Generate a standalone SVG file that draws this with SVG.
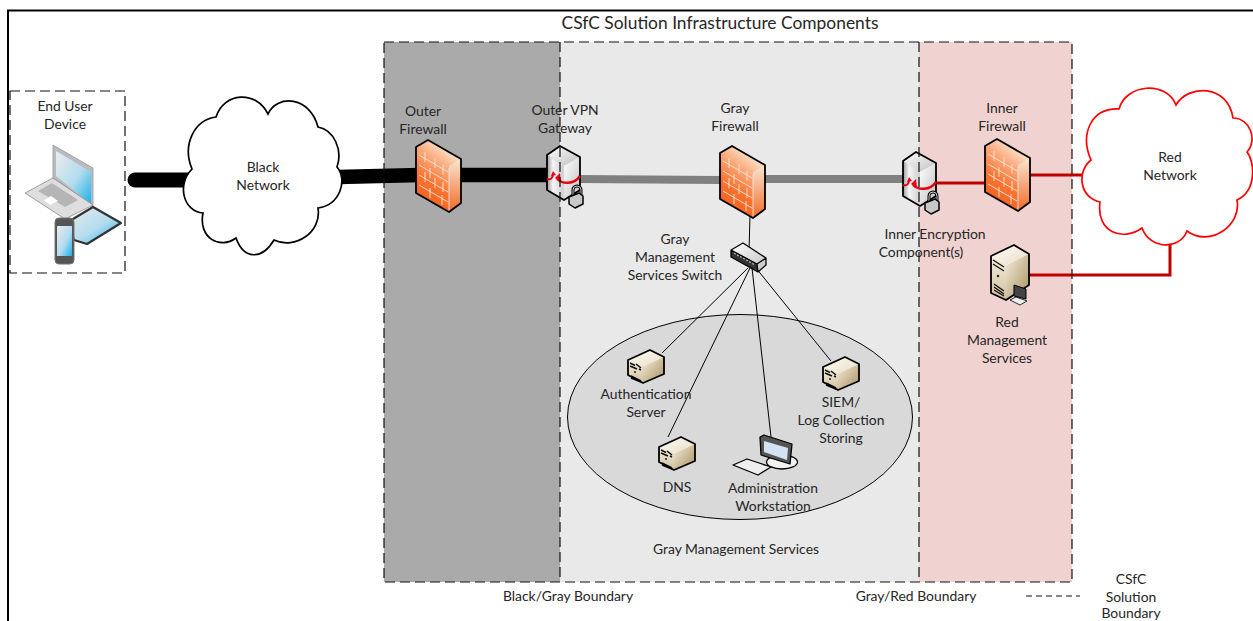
<svg xmlns="http://www.w3.org/2000/svg" width="1253" height="621" viewBox="0 0 1253 621">
<defs>
<style>
text{font-family:Lato,"Open Sans","Liberation Sans",sans-serif;font-size:13.900px;fill:#262626;text-anchor:middle}
.dash{fill:none;stroke:#111;stroke-width:1.200;stroke-dasharray:10 5}
.cloud{fill:#fff;stroke-width:1.700}
.edge{fill:none;stroke:#000;stroke-width:1.800;stroke-linejoin:round}
</style>
<linearGradient id="fw" gradientUnits="userSpaceOnUse" x1="38" y1="12" x2="2" y2="60"><stop offset="0" stop-color="#f9e6cf"/><stop offset=".28" stop-color="#fbae82"/><stop offset=".65" stop-color="#f9722f"/><stop offset="1" stop-color="#f2601f"/></linearGradient>
<linearGradient id="fws" x1="0" y1="0" x2="0" y2="1"><stop offset="0" stop-color="#f8e6d0"/><stop offset="1" stop-color="#f26a28"/></linearGradient>
<linearGradient id="top" x1="0" y1="0" x2="1" y2="1"><stop offset="0" stop-color="#fffdf8"/><stop offset="1" stop-color="#e8dcc4"/></linearGradient>
<linearGradient id="tan" x1="0" y1="0" x2="1" y2="1"><stop offset="0" stop-color="#f4ecdc"/><stop offset="1" stop-color="#a8905f"/></linearGradient>
<linearGradient id="cream" x1="0" y1="0" x2="0" y2="1"><stop offset="0" stop-color="#f5efe0"/><stop offset="1" stop-color="#d0bf9c"/></linearGradient>
<linearGradient id="sil" x1="0" y1="0" x2="1" y2="1"><stop offset="0" stop-color="#fff"/><stop offset="1" stop-color="#c0c0c0"/></linearGradient>
<linearGradient id="silf" x1="0" y1="0" x2="1" y2="0"><stop offset="0" stop-color="#9a9a9a"/><stop offset=".35" stop-color="#f5f5f5"/><stop offset="1" stop-color="#cfcfcf"/></linearGradient>
<linearGradient id="blu" x1="0" y1="0" x2="1" y2="1"><stop offset="0" stop-color="#ececec"/><stop offset=".55" stop-color="#b4dcef"/><stop offset="1" stop-color="#18b0ea"/></linearGradient>
<g id="firewall">
<path d="M0 7 L12 0 L45 19 L45 63 L33 72 L0 53Z" fill="url(#fw)"/>
<path d="M33 26 L45 19 L45 63 L33 72Z" fill="url(#fws)"/>
<path d="M3 15 L32 32 M3 25 L32 42 M3 35 L32 52 M3 45 L32 62 M9 12 V22 M19 18 V28 M9 32 V42 M19 38 V48 M27 42 V52 M14 28 V38 M27 25 V35 M14 48 V58 M26 55 V65 M33 28 V71" fill="none" stroke="#fde6d6" stroke-width=".9"/>
<path class="edge" d="M0 7 L12 0 L45 19 L45 63 L33 72 L0 53Z"/>
</g>
<g id="server">
<path d="M0 10 L22 0 L36 7 L15 17Z" fill="url(#top)"/>
<path d="M15 17 L36 7 L36 24 L15 33Z" fill="url(#tan)"/>
<path d="M0 10 L15 17 L15 33 L0 25Z" fill="url(#cream)"/>
<path d="M2 13 L7 15.500 M8 14 L13 18 M2 16 L9 19 M11 19 L13 20 M3 26 L13 31 M3 28 L13 32" stroke="#111" stroke-width="1.500" fill="none"/>
<circle cx="7" cy="22" r="1" fill="#222"/>
<path class="edge" d="M0 10 L22 0 L36 7 L36 24 L15 33 L0 25Z"/>
</g>
<g id="vpn">
<path d="M0 9 L13 0 L33 11 L17 20Z" fill="url(#sil)"/>
<path d="M0 9 L17 20 L17 54 L0 44Z" fill="url(#silf)"/>
<path d="M17 20 L33 11 L33 44 L17 54Z" fill="url(#sil)"/>
<path class="edge" d="M0 9 L13 0 L33 11 L33 44 L17 54 L0 44Z"/>
<path d="M33 30 C27 39 15 38 10 33" fill="none" stroke="#e60012" stroke-width="2.400"/>
<path d="M8 32 L13 27 L14 36Z" fill="#e60012"/>
<path d="M0 33 C3 34 6 33 6 28" fill="none" stroke="#e60012" stroke-width="2"/>
<path d="M4 30 L9 29 L6 25Z" fill="#e60012"/>
<g transform="translate(22,39)">
<path d="M4 10 L4 5 A4 4 0 0 1 12 5 L12 10" fill="none" stroke="#000" stroke-width="3"/>
<path d="M4 10 L4 5 A4 4 0 0 1 12 5 L12 10" fill="none" stroke="#ccc" stroke-width="1"/>
<path d="M0 12 L10 8 L14 11 L14 19 L6 23 L0 19Z" fill="#c8c8c8" stroke="#000" stroke-width="1.500" stroke-linejoin="round"/>
</g>
</g>
</defs>

<rect x="0" y="0" width="1253" height="621" fill="#fff"/>
<path d="M8 621 V10.500 H1253" fill="none" stroke="#000" stroke-width="2"/>
<text x="720" y="29" style="font-size:17.400px">CSfC Solution Infrastructure Components</text>

<g id="zones">
<rect x="384" y="42" width="176" height="540" fill="#aaaaaa"/>
<rect x="560" y="42" width="359" height="540" fill="#e9e9e9"/>
<rect x="919" y="42" width="153" height="540" fill="#f0d3d0"/>
</g>
<g id="mgmt-ellipse"><ellipse cx="740" cy="417" rx="172.500" ry="102.500" fill="#d9d9d9" stroke="#000" stroke-width="1"/></g>

<g id="connectors" fill="none">
<path d="M135 180 H190" stroke="#000" stroke-width="15" stroke-linecap="round"/>
<path d="M338 177 L420 175 H550" stroke="#000" stroke-width="14.500"/>
<path d="M577 179 L720 180 M765 179 H905" stroke="#808080" stroke-width="8"/>
<path d="M931 183 H986 M1028 175 H1085" stroke="#c00000" stroke-width="3"/>
<path d="M1028 275 H1170 V244" stroke="#c00000" stroke-width="3"/>
<path d="M750 215 L749 252" stroke="#000" stroke-width="1"/>
<path d="M748 268 L662 353 M750 268 L668 437 M752 268 L771 437 M756 268 L831 361" stroke="#000" stroke-width="1"/>
</g>

<g id="end-user-device">
<rect class="dash" x="10" y="91" width="115" height="182"/>
<path d="M53 145 L93 168 L93 207 L53 178Z" fill="#b8bcc0" stroke="#999" stroke-width=".8"/>
<path d="M56 151 L91 172 L91 204 L56 176Z" fill="url(#blu)"/>
<path d="M53 178 L93 205 L65 219 L25 193Z" fill="#dedede" stroke="#888" stroke-width=".8"/>
<path d="M38 191 L52 183 L78 200 L65 207Z" fill="#b5b5b5"/><path d="M44 200 L51 196 L58 201 L50 205Z" fill="#fff"/>
<path d="M68 222 L93 207 L121 223 L87 244 L74 240Z" fill="url(#blu)" stroke="#333" stroke-width="2.200" stroke-linejoin="round"/>
<rect x="55" y="218" width="19" height="46" rx="4" fill="#555" stroke="#777"/><rect x="57" y="226" width="15" height="30" fill="url(#blu)"/>
<text x="65" y="111">End User</text><text x="65" y="129">Device</text>
</g>

<g id="black-network">
<path class="cloud" stroke="#000" d="M192 169 C182 145 194 120 216 117 C224 92 256 90 268 114 C277 94 310 96 318 127 C334 130 343 150 337 167 C348 180 340 205 318 208 C322 232 295 250 274 240 C262 260 244 260 236 238 C220 250 198 238 203 213 C184 212 176 185 192 169Z"/>
<text x="263" y="172">Black</text><text x="263" y="190">Network</text>
</g>

<g id="outer-firewall"><use href="#firewall" x="416" y="140"/><text x="423" y="116">Outer</text><text x="423" y="134">Firewall</text></g>
<g id="outer-vpn-gateway"><use href="#vpn" x="547" y="146"/><text x="565" y="115">Outer VPN</text><text x="565" y="133">Gateway</text></g>
<g id="gray-firewall"><use href="#firewall" x="720" y="146"/><text x="735" y="113">Gray</text><text x="735" y="131">Firewall</text></g>
<g id="switch">
<path d="M731 250 L743 243 L766 258 L766 265 L758 272 L731 257Z" fill="url(#sil)"/>
<path d="M731 250 L757 264 L758 272 L731 257Z" fill="#333"/>
<path d="M734 253 L755 265" stroke="#aaa" stroke-width="1.500" stroke-dasharray="2 1.500" fill="none"/>
<path d="M731 250 L743 243 L766 258 L766 265 L758 272 L731 257Z M731 250 L757 264 L766 258 M757 264 L758 272" fill="none" stroke="#000" stroke-width="1.300" stroke-linejoin="round"/>
<text x="675" y="244">Gray</text><text x="675" y="262">Management</text><text x="675" y="280">Services Switch</text>
</g>
<g id="inner-encryption"><use href="#vpn" x="903" y="152"/><text x="935" y="239">Inner Encryption</text><text x="921" y="257">Component(s)</text></g>
<g id="inner-firewall"><use href="#firewall" x="985" y="139"/><text x="1002" y="113">Inner</text><text x="1002" y="131">Firewall</text></g>
<g id="red-network">
<path class="cloud" stroke="#ff0000" d="M1091 160 C1080 135 1090 108 1119 109 C1126 84 1166 80 1176 105 C1188 84 1228 84 1233 118 C1250 118 1258 140 1247 152 C1254 160 1258 190 1237 200 C1242 225 1210 248 1187 231 C1180 250 1150 250 1142 228 C1122 242 1096 232 1100 202 C1080 198 1076 172 1091 160Z"/>
<text x="1170" y="162">Red</text><text x="1170" y="180">Network</text>
</g>
<g id="red-management">
<path d="M991 256 L1014 245 L1029 254 L1006 266Z" fill="url(#top)"/>
<path d="M1006 266 L1029 254 L1029 285 L1006 300Z" fill="url(#tan)"/>
<path d="M991 256 L1006 266 L1006 300 L991 293Z" fill="url(#cream)"/>
<path d="M993 260 L1004 267 M993 264 L1004 271 M994 284 L1004 291 M994 287 L1004 294 M994 290 L1004 296" stroke="#111" stroke-width="1.300" fill="none"/>
<circle cx="998" cy="276" r="1.200" fill="#222"/>
<path class="edge" d="M991 256 L1014 245 L1029 254 L1029 285 L1006 300 L991 293Z"/>
<path d="M1014 285 L1026 289 L1026 299 L1014 296Z" fill="#444" stroke="#000"/>
<path d="M1010 300 L1016 297 L1027 301 L1020 305Z" fill="#eee" stroke="#000" stroke-width=".8"/>
<text x="1007" y="327">Red</text><text x="1007" y="345">Management</text><text x="1007" y="363">Services</text>
</g>
<g id="auth-server"><use href="#server" x="628" y="350"/><text x="646" y="399">Authentication</text><text x="646" y="417">Server</text></g>
<g id="dns"><use href="#server" x="659" y="437"/><text x="677" y="492">DNS</text></g>
<g id="admin">
<ellipse cx="782" cy="462" rx="15.500" ry="7" fill="#f2f2f2" stroke="#000" stroke-width="1.300"/>
<path d="M760 437 L764 435 L792 444 L790 464 L761 455Z" fill="#555" stroke="#000" stroke-width="1.300" stroke-linejoin="round"/>
<path d="M764 441 L788 448 L787 460 L764 452Z" fill="#d4e2f5"/>
<path d="M733 465 L747 459 L771 467 L758 475Z" fill="#eee" stroke="#000" stroke-width="1.300" stroke-linejoin="round"/>
<text x="773" y="493">Administration</text><text x="773" y="511">Workstation</text>
</g>
<g id="siem"><use href="#server" x="823" y="357"/><text x="841" y="407">SIEM/</text><text x="841" y="425">Log Collection</text><text x="841" y="443">Storing</text></g>

<g id="boundaries">
<rect class="dash" x="384" y="42" width="688" height="540"/>
<path class="dash" d="M560 42 V582 M919 42 V582"/>
</g>

<g id="labels">
<text x="736" y="554">Gray Management Services</text>
<text x="568" y="601">Black/Gray Boundary</text>
<text x="916" y="601">Gray/Red Boundary</text>
<path d="M1026 596 H1080" fill="none" stroke="#111" stroke-width="1" stroke-dasharray="6 4"/>
<text x="1131" y="584">CSfC</text><text x="1131" y="602">Solution</text><text x="1131" y="617.500">Boundary</text>
</g>
</svg>
